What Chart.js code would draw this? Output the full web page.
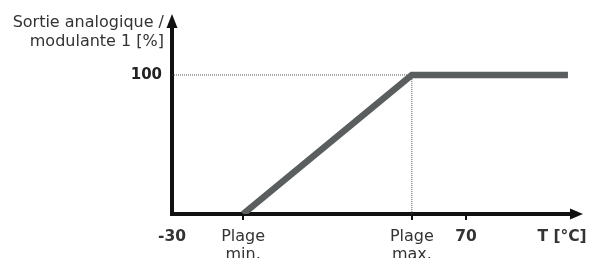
<!DOCTYPE html>
<html>
<head>
<meta charset="utf-8">
<script src="https://cdn.jsdelivr.net/npm/chart.js@4"></script>
<style>
  html, body { margin: 0; padding: 0; background: #fff; }
  #wrap { width: 592px; height: 258px; }
</style>
</head>
<body>
<div id="wrap"><canvas id="sortieChart"></canvas></div>
<script>
  // schematic curve: output % against temperature
  const tempPoints = [-5.8, 51.6, 104.7];
  const outputPoints = [0, 100, 100];

  // dotted guide lines to the 100 % level
  const guideTemp = [-30, 51.6, 51.6];
  const guideOutput = [100, 100, 0];

  const xTickValues = [-30, -5.8, 51.6, 70, 102.7];
  const xTickLabels = ["-30", ["Plage", "min."], ["Plage", "max."], "70", "T [°C]"];
  const xTickBold = [true, false, false, true, true];
  const xTickMarks = [false, true, true, true, false];
  const yTickValues = [100];
  const yTitle = ["Sortie analogique /", "modulante 1 [%]"];

  const FONT = "'DejaVu Sans', Verdana, sans-serif";

  const axesPlugin = {
    id: "axesArrows",
    beforeDatasetsDraw(chart) {
      const { ctx, chartArea } = chart;
      const x0 = chartArea.left;
      const y0 = chartArea.bottom;
      ctx.save();
      ctx.strokeStyle = "#111";
      ctx.fillStyle = "#111";
      ctx.lineWidth = 4;
      ctx.lineCap = "square";
      ctx.beginPath();
      ctx.moveTo(x0, chartArea.top);
      ctx.lineTo(x0, y0);
      ctx.lineTo(chartArea.right, y0);
      ctx.stroke();
      // arrow heads
      ctx.beginPath();
      ctx.moveTo(x0 - 5.5, chartArea.top);
      ctx.lineTo(x0 + 5.5, chartArea.top);
      ctx.lineTo(x0, chartArea.top - 14);
      ctx.closePath();
      ctx.fill();
      ctx.beginPath();
      ctx.moveTo(chartArea.right, y0 - 5.5);
      ctx.lineTo(chartArea.right, y0 + 5.5);
      ctx.lineTo(chartArea.right + 13, y0);
      ctx.closePath();
      ctx.fill();
      // y axis title
      ctx.font = "16px " + FONT;
      ctx.fillStyle = "#333";
      ctx.textAlign = "right";
      ctx.textBaseline = "middle";
      ctx.fillText(yTitle[0], 164, 23);
      ctx.fillText(yTitle[1], 164, 42);
      ctx.restore();
    },
  };

  const ctx = document.getElementById("sortieChart");

  new Chart(ctx, {
    type: "line",
    data: {
      datasets: [
        {
          label: "guide",
          data: guideTemp.map((t, i) => ({ x: t, y: guideOutput[i] })),
          borderColor: "#555",
          borderWidth: 1,
          borderDash: [1, 1],
          pointRadius: 0,
          fill: false,
          order: 2,
        },
        {
          label: "Sortie",
          data: tempPoints.map((t, i) => ({ x: t, y: outputPoints[i] })),
          borderColor: "#5b5e5e",
          borderWidth: 6.5,
          borderJoinStyle: "miter",
          pointRadius: 0,
          fill: false,
          tension: 0,
          order: 1,
        },
      ],
    },
    options: {
      responsive: true,
      maintainAspectRatio: false,
      animation: false,
      layout: {
        padding: { top: 28, right: 22, left: 0, bottom: 0 },
      },
      plugins: {
        legend: { display: false },
        tooltip: { enabled: false },
      },
      scales: {
        x: {
          type: "linear",
          min: -30,
          max: 105.4,
          border: { display: false },
          afterBuildTicks: (scale) => {
            scale.ticks = xTickValues.map((v) => ({ value: v }));
          },
          afterFit: (scale) => {
            scale.height = 44;
            scale.paddingLeft = 0;
            scale.paddingRight = 0;
          },
          grid: {
            drawOnChartArea: false,
            drawTicks: true,
            tickLength: 6,
            lineWidth: 2,
            color: (c) => (xTickMarks[c.index] ? "#111" : "rgba(0,0,0,0)"),
          },
          ticks: {
            autoSkip: false,
            maxRotation: 0,
            padding: 8,
            color: "#333",
            font: (c) => ({
              family: FONT,
              size: xTickBold[c.index] ? 15.5 : 16,
              weight: xTickBold[c.index] ? "bold" : "normal",
              lineHeight: 1.1,
            }),
            callback: (value, index) => xTickLabels[index],
          },
        },
        y: {
          min: 0,
          max: 133.8,
          border: { display: false },
          afterBuildTicks: (scale) => {
            scale.ticks = yTickValues.map((v) => ({ value: v }));
          },
          afterFit: (scale) => {
            scale.width = 172;
          },
          grid: { display: false, drawTicks: false },
          ticks: {
            padding: 10,
            color: "#222",
            font: { family: FONT, size: 15, weight: "bold" },
          },
        },
      },
    },
    plugins: [axesPlugin],
  });
</script>
</body>
</html>
